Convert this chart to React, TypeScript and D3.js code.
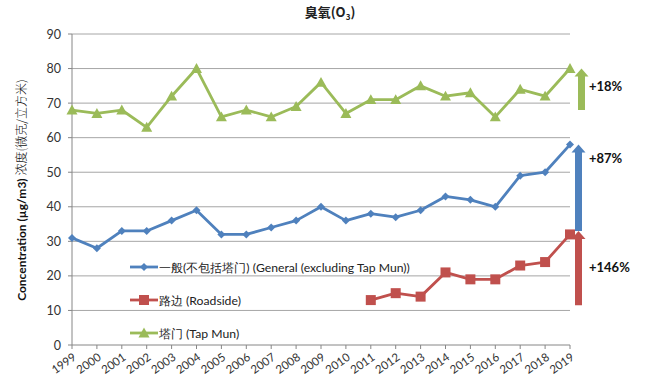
import React from "react";
import * as d3 from "d3";

const years = d3.range(1999, 2020).map(String);
const yTicks = [0, 10, 20, 30, 40, 50, 60, 70, 80, 90];
const general = [31, 28, 33, 33, 36, 39, 32, 32, 34, 36, 40, 36, 38, 37, 39, 43, 42, 40, 49, 50, 58];
const roadsideYears = ["2011", "2012", "2013", "2014", "2015", "2016", "2017", "2018", "2019"];
const roadside = [13, 15, 14, 21, 19, 19, 23, 24, 32];
const tapMun = [68, 67, 68, 63, 72, 80, 66, 68, 66, 69, 76, 67, 71, 71, 75, 72, 73, 66, 74, 72, 80];
const arrows = [
  { from: 68, to: 80, label: "+18%", labelAt: 75, color: "#9BBB59", dx: 3 },
  { from: 33, to: 58, label: "+87%", labelAt: 54, color: "#4F81BD", dx: 0 },
  { from: 11.5, to: 33, label: "+146%", labelAt: 22.5, color: "#C0504D", dx: 0 },
];
const legendItems = [
  { label: "一般(不包括塔门) (General (excluding Tap Mun))", color: "#4F81BD", shape: "diamond" },
  { label: "路边 (Roadside)", color: "#C0504D", shape: "square" },
  { label: "塔门 (Tap Mun)", color: "#9BBB59", shape: "triangle" },
];

const W = 664, H = 387;
const left = 72, right = 570, top = 34, bottom = 345;
const font = "Lato, 'Open Sans', sans-serif";

function marker(shape: string, x: number, y: number, color: string, key?: any) {
  if (shape === "diamond") {
    const s = 4;
    return <path key={key} d={`M${x},${y - s}L${x + s},${y}L${x},${y + s}L${x - s},${y}Z`} fill={color} />;
  }
  if (shape === "square") {
    const s = 5;
    return <rect key={key} x={x - s} y={y - s} width={2 * s} height={2 * s} fill={color} />;
  }
  const s = 5.5;
  return <path key={key} d={`M${x},${y - s}L${x + s},${y + s * 0.8}L${x - s},${y + s * 0.8}Z`} fill={color} />;
}

export default function App() {
  const x = d3.scalePoint<string>().domain(years).range([left, right]);
  const y = d3.scaleLinear().domain([0, 90]).range([bottom, top]);
  const line = d3.line<[string, number]>().x((d) => x(d[0])!).y((d) => y(d[1]));

  const series = [
    { data: years.map((yr, i) => [yr, general[i]] as [string, number]), color: "#4F81BD", shape: "diamond" },
    { data: roadsideYears.map((yr, i) => [yr, roadside[i]] as [string, number]), color: "#C0504D", shape: "square" },
    { data: years.map((yr, i) => [yr, tapMun[i]] as [string, number]), color: "#9BBB59", shape: "triangle" },
  ];

  return (
    <svg width={W} height={H} style={{ position: "absolute", left: 0, top: 0, background: "#fff" }}>
      <rect width={W} height={H} fill="#fff" />
      {/* title */}
      <text x={330} y={17} textAnchor="middle" fontFamily="'Noto Sans CJK SC', sans-serif" fontWeight="bold" fontSize={13} fill="#222">
        臭氧(O<tspan fontSize={8} dy={3}>3</tspan><tspan dy={-3}>)</tspan>
      </text>
      {/* gridlines */}
      {yTicks.map((t) => (
        <g key={t}>
          {t > 0 && <line x1={left} x2={right} y1={y(t)} y2={y(t)} stroke="#A6A6A6" strokeWidth={1} />}
          <line x1={left - 4} x2={left} y1={y(t)} y2={y(t)} stroke="#868686" />
          <text x={left - 11} y={y(t) + 4.5} textAnchor="end" fontFamily={font} fontSize={12.5} fill="#333">{t}</text>
        </g>
      ))}
      {/* axes */}
      <line x1={left} x2={left} y1={top} y2={bottom} stroke="#868686" />
      <line x1={left} x2={right} y1={bottom} y2={bottom} stroke="#868686" />
      {years.map((yr) => (
        <g key={yr}>
          <line x1={x(yr)} x2={x(yr)} y1={bottom} y2={bottom + 4} stroke="#868686" />
          <text transform={`translate(${x(yr)! + 5},${bottom + 14}) rotate(-35)`} textAnchor="end" fontFamily={font} fontSize={11.5} fill="#333">{yr}</text>
        </g>
      ))}
      {/* y label */}
      <text transform={`translate(26,${190}) rotate(-90)`} textAnchor="middle" fontSize={12} fill="#111">
        <tspan fontFamily={font} fontWeight="bold">Concentration (µg/m3) </tspan>
        <tspan fontFamily="'Noto Sans CJK SC', serif" fontWeight="300">浓度(微克/立方米)</tspan>
      </text>
      {/* series */}
      {series.map((s, i) => (
        <g key={i}>
          <path d={line(s.data)!} fill="none" stroke={s.color} strokeWidth={2.8} strokeLinejoin="round" />
          {s.data.map((d, j) => marker(s.shape, x(d[0])!, y(d[1]), s.color, j))}
        </g>
      ))}
      {/* legend */}
      {legendItems.map((it, i) => {
        const ly = 267 + i * 33;
        return (
          <g key={i}>
            <line x1={130} x2={158} y1={ly} y2={ly} stroke={it.color} strokeWidth={2.8} />
            {marker(it.shape, 144, ly, it.color)}
            <text x={159} y={ly + 4.5} fontFamily={font} fontSize={12.2} fill="#222">{it.label}</text>
          </g>
        );
      })}
      {/* arrows */}
      {arrows.map((a, i) => {
        const cx = 578.5 + a.dx;
        const yTop = y(a.to);
        const yBot = y(a.from);
        const hw = 7;
        const hh = 8;
        const sw = 3.5;
        return (
          <g key={i}>
            <path
              d={`M${cx - sw},${yBot}L${cx - sw},${yTop + hh}L${cx - hw},${yTop + hh}L${cx},${yTop}L${cx + hw},${yTop + hh}L${cx + sw},${yTop + hh}L${cx + sw},${yBot}Z`}
              fill={a.color}
            />
            <text x={589} y={y(a.labelAt) + 5} fontFamily={font} fontWeight="bold" fontSize={13} fill="#111">{a.label}</text>
          </g>
        );
      })}
    </svg>
  );
}
